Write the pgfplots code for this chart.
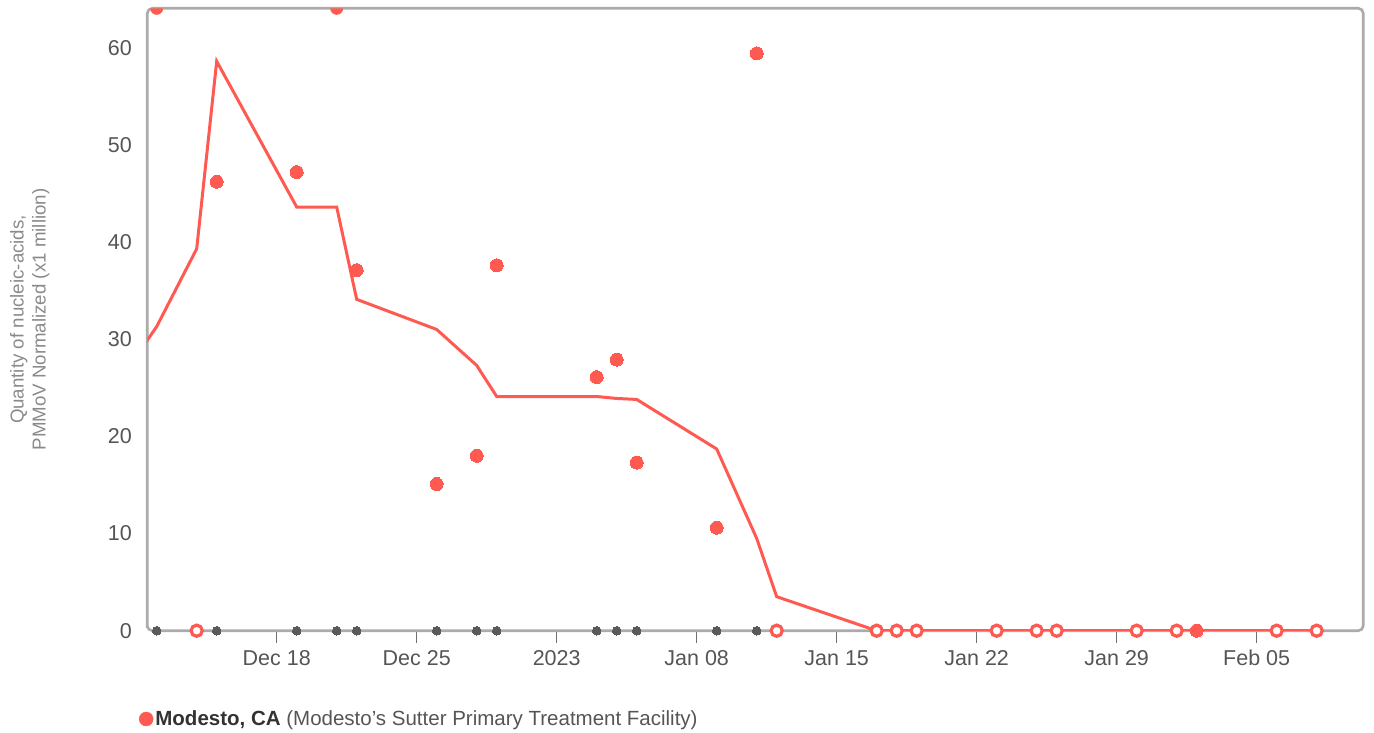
\documentclass[border=0pt]{standalone}
\usepackage{fontspec}
\setmainfont{Liberation Sans}
\usepackage{pgfplots}
\pgfplotsset{compat=1.18}
\definecolor{cred}{HTML}{FF5A52}
\definecolor{axgray}{HTML}{ABABAB}
\definecolor{tickgray}{HTML}{707070}
\definecolor{labgray}{HTML}{555555}
\definecolor{ylabgray}{HTML}{8A8A8A}
\definecolor{dotgray}{HTML}{5A5A5A}
\definecolor{leggray}{HTML}{333333}
\pgfdeclareplotmark{lowerhalf}{%
  \pgfpathmoveto{\pgfqpoint{-\pgfplotmarksize}{0pt}}%
  \pgfpatharc{180}{360}{\pgfplotmarksize}%
  \pgfpathclose
  \pgfusepathqfill}
\begin{document}
\begin{tikzpicture}
\begin{axis}[
  scale only axis, width=1216pt, height=622.4pt,
  xmin=-20.47, xmax=40.33, ymin=0, ymax=64.05,
  xtick={-14,-7,0,7,14,21,28,35},
  xticklabels={Dec 18,Dec 25,2023,Jan 08,Jan 15,Jan 22,Jan 29,Feb 05},
  ytick={0,10,...,60},
  xtick pos=left, ytick pos=left,
  tick align=outside,
  major tick length=12pt,
  x tick style={draw=tickgray, line width=1.3pt},
  y tick style={draw=none},
  axis line style={draw=axgray, line width=2.6pt, rounded corners=5pt},
  tick label style={font=\fontsize{21.5}{25}\selectfont, text=labgray},
  x tick label style={yshift=-4pt},
  /pgf/number format/assume math mode=true,
  ylabel={Quantity of nucleic-acids,\\PMMoV Normalized (x1 million)},
  every axis y label/.style={at={(rel axis cs:0,0.5)}, xshift=-117.5pt, rotate=90, anchor=center, align=center, font=\fontsize{18.7}{22}\selectfont, text=ylabgray},
  legend style={at={(rel axis cs:0,0)}, anchor=west, xshift=-8.3pt, yshift=-88.3pt, draw=none, fill=none, inner sep=0pt, outer sep=0pt, font=\fontsize{20.5}{24}\selectfont, text=labgray, /tikz/every even column/.append style={column sep=3pt}},
  legend image code/.code={\fill[cred] (0pt,0pt) circle (7pt);},
]
% gray rug dots at zero for detections
\addplot[only marks, color=dotgray, mark=*, mark size=4.3pt, mark options={solid, fill=dotgray, draw=dotgray, line width=0pt}, forget plot] coordinates {
(-20,0) (-17,0) (-13,0) (-11,0) (-10,0) (-6,0) (-4,0) (-3,0) (2,0) (3,0) (4,0) (8,0) (10,0)};
% trend line
\addplot[color=cred, line width=3pt, no marks, forget plot] coordinates {
(-21,28.3) (-20,31.3) (-18,39.3) (-17,58.6) (-13,43.6) (-11,43.6) (-10,34.1)
(-6,31.0) (-4,27.3) (-3,24.1) (2,24.1) (3,23.9) (4,23.8) (8,18.7) (10,9.5)
(11,3.5) (16,0) (17,0) (18,0) (22,0) (24,0) (25,0) (29,0) (31,0) (32,0) (36,0) (38,0)};
% points above the plotted range
\addplot[only marks, color=cred, mark=lowerhalf, mark size=6.5pt, mark options={solid, fill=cred}, forget plot] coordinates {
(-20,64.05) (-11,64.05)};
% non-detects
\addplot[only marks, color=cred, line width=3.2pt, mark=*, mark size=5.6pt, mark options={solid, draw=cred, fill=white, line width=3.2pt}, forget plot] coordinates {
(-18,0) (11,0) (16,0) (17,0) (18,0) (22,0) (24,0) (25,0) (29,0) (31,0) (36,0) (38,0)};
% measured samples
\addplot[only marks, color=cred, mark=*, mark size=6.5pt, mark options={solid, fill=cred, draw=cred, line width=0pt}] coordinates {
(-17,46.2) (-13,47.2) (-10,37.1) (-6,15.1) (-4,18.0) (-3,37.6) (2,26.1) (3,27.9)
(4,17.3) (8,10.6) (10,59.4) (32,0)};
\addlegendentry{\textcolor{leggray}{\bfseries Modesto, CA} (Modesto’s Sutter Primary Treatment Facility)}
\end{axis}
\pgfresetboundingbox
\path ([xshift=-147.3pt, yshift=-101.3pt]current axis.south west) rectangle ++(1374pt,732pt);
\end{tikzpicture}
\end{document}
